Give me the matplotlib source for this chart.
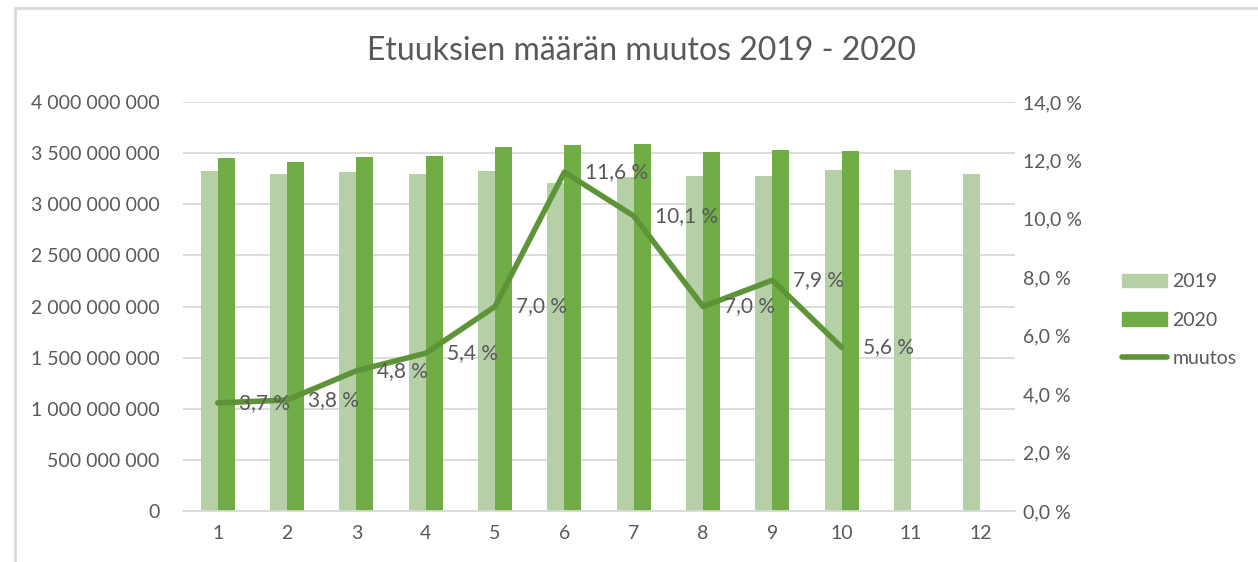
import matplotlib.pyplot as plt
from matplotlib.patches import Patch, Rectangle
from matplotlib.lines import Line2D
import numpy as np

plt.rcParams['font.family'] = ['Lato', 'DejaVu Sans']

kuukaudet = list(range(1, 13))
v2019 = [3.322e9, 3.300e9, 3.312e9, 3.300e9, 3.322e9, 3.208e9,
         3.262e9, 3.278e9, 3.278e9, 3.336e9, 3.336e9, 3.300e9]
v2020 = [3.452e9, 3.416e9, 3.464e9, 3.474e9, 3.558e9, 3.577e9,
         3.590e9, 3.507e9, 3.535e9, 3.522e9]
muutos = [3.7, 3.8, 4.8, 5.4, 7.0, 11.6, 10.1, 7.0, 7.9, 5.6]

c2019 = '#b5cfa7'
c2020 = '#70ad47'
cline = '#5e9438'
ctext = '#595959'

fig = plt.figure(figsize=(12.58, 5.62), dpi=100)
ax = fig.add_axes([0.1455, 0.0907, 0.6614, 0.7278])

w = 0.245
x = np.array(kuukaudet)
ax.bar(x - w / 2, v2019, w, color=c2019, zorder=2)
ax.bar(x[:len(v2020)] + w / 2, v2020, w, color=c2020, zorder=2)

ax.set_xlim(0.5, 12.5)
ax.set_ylim(0, 4e9)
yt = np.arange(0, 4.01e9, 5e8)
ax.set_yticks(yt)
ax.set_yticklabels(['{:,.0f}'.format(v).replace(',', ' ') for v in yt])
ax.set_xticks(x)
ax.grid(axis='y', color='#d9d9d9', linewidth=1.3, zorder=0)
for s in ['top', 'right', 'left']:
    ax.spines[s].set_visible(False)
ax.spines['bottom'].set_color('#d9d9d9')
ax.spines['bottom'].set_linewidth(1.3)
ax.tick_params(length=0, labelsize=14, labelcolor=ctext, pad=17)
ax.tick_params(axis='x', pad=10)

ax2 = ax.twinx()
ax2.plot(x[:len(muutos)], muutos, color=cline, linewidth=4,
         solid_capstyle='round', solid_joinstyle='round', zorder=3)
ax2.set_ylim(0, 14)
rt = np.arange(0, 14.1, 2)
ax2.set_yticks(rt)
ax2.set_yticklabels(['{:.1f} %'.format(v).replace('.', ',') for v in rt])
ax2.tick_params(length=0, labelsize=14, labelcolor=ctext, pad=6)
for s in ax2.spines.values():
    s.set_visible(False)
for xi, m in zip(x, muutos):
    ax2.annotate('{:.1f} %'.format(m).replace('.', ','), (xi, m),
                 xytext=(15, 0), textcoords='offset points',
                 ha='left', va='center', fontsize=15, color=ctext)

fig.text(0.51, 0.91, 'Etuuksien määrän muutos 2019 - 2020', ha='center',
         va='center', fontsize=23, color=ctext)

handles = [Patch(color=c2019, label='2019'),
           Patch(color=c2020, label='2020'),
           Line2D([], [], color=cline, linewidth=4,
                  solid_capstyle='round', label='muutos')]
fig.legend(handles=handles, loc='center left', bbox_to_anchor=(0.878, 0.43),
           frameon=False, fontsize=14, labelcolor=ctext, handlelength=2.3,
           handletextpad=0.3, labelspacing=1.1)

fig.patches.append(Rectangle((15 / 1258, -0.1), 1.2, 1 - 8 / 562 + 0.1,
                             transform=fig.transFigure, fill=False,
                             edgecolor='#d9d9d9', linewidth=2))

fig.savefig('out.png', dpi=100)
